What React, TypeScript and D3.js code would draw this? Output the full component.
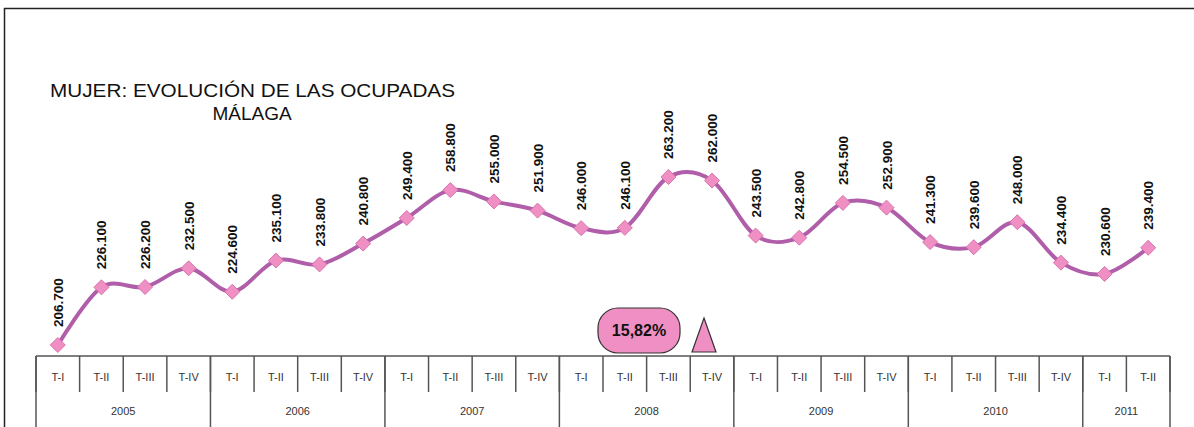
import React from "react";
import * as d3 from "d3";

const quarters = [
  "T-I","T-II","T-III","T-IV","T-I","T-II","T-III","T-IV","T-I","T-II","T-III","T-IV",
  "T-I","T-II","T-III","T-IV","T-I","T-II","T-III","T-IV","T-I","T-II","T-III","T-IV","T-I","T-II",
];
const years = ["2005", "2006", "2007", "2008", "2009", "2010", "2011"];
const quartersPerYear = [4, 4, 4, 4, 4, 4, 2];
const values = [
  206.7, 226.1, 226.2, 232.5, 224.6, 235.1, 233.8, 240.8, 249.4, 258.8, 255.0, 251.9,
  246.0, 246.1, 263.2, 262.0, 243.5, 242.8, 254.5, 252.9, 241.3, 239.6, 248.0, 234.4,
  230.6, 239.4,
];
const badgeText = "15,82%";

const W = 1194;
const H = 427;

export default function App() {
  const x = d3.scaleBand<number>().domain(d3.range(values.length)).range([36, 1170]).padding(0);
  const bw = x.bandwidth();
  const cx = (i: number) => (x(i) as number) + bw / 2;
  const y = d3.scaleLinear().domain([200, 270]).range([364.9, 156.8]);
  const line = d3
    .line<number>()
    .x((_, i) => cx(i))
    .y((d) => y(d))
    .curve(d3.curveCardinal.tension(0));
  const fmt = (v: number) => d3.format(".3f")(v).replace(",", "");

  const tableTop = 356;
  const qRowBottom = 392;
  const left = x(0) as number;
  const right = left + bw * values.length;

  let acc = 0;
  const yearCells = years.map((yr, k) => {
    const start = acc;
    acc += quartersPerYear[k];
    return { yr, x0: left + start * bw, x1: left + acc * bw };
  });

  const diamond = 7.5;

  return (
    <svg width={W} height={H} style={{ position: "absolute", left: 0, top: 0, background: "#fff" }} fontFamily="Liberation Sans, Arial, sans-serif">
      <rect x={0} y={0} width={W} height={H} fill="#fff" />
      {/* outer frame */}
      <line x1={4} y1={8.5} x2={W} y2={8.5} stroke="#222" strokeWidth={1.5} />
      <line x1={4.5} y1={8} x2={4.5} y2={H} stroke="#222" strokeWidth={1.5} />

      {/* title */}
      <text x={50} y={97} fontSize={19} fill="#111" textLength={405} lengthAdjust="spacingAndGlyphs">
        MUJER: EVOLUCIÓN DE LAS OCUPADAS
      </text>
      <text x={252} y={120} fontSize={19} fill="#111" textAnchor="middle">
        MÁLAGA
      </text>

      {/* line */}
      <path d={line(values) || ""} fill="none" stroke="#b05ea9" strokeWidth={4} strokeLinejoin="round" />
      {values.map((v, i) => (
        <path
          key={"m" + i}
          d={`M${cx(i)},${y(v) - diamond} L${cx(i) + diamond},${y(v)} L${cx(i)},${y(v) + diamond} L${cx(i) - diamond},${y(v)} Z`}
          fill="#f08fc4"
          stroke="#d774ad"
          strokeWidth={1}
        />
      ))}
      {values.map((v, i) => (
        <text
          key={"l" + i}
          transform={`translate(${cx(i) + 5},${y(v) - 18}) rotate(-90)`}
          fontSize={13.5}
          fontWeight="bold"
          fill="#111"
        >
          {fmt(v)}
        </text>
      ))}

      {/* badge */}
      <rect x={598} y={308} width={82} height={45} rx={20} ry={20} fill="#f08fc4" stroke="#333" strokeWidth={1.2} />
      <text x={639} y={336} fontSize={16} fontWeight="bold" textAnchor="middle" fill="#111">
        {badgeText}
      </text>
      <path d="M704,318 L716,352 L692,352 Z" fill="#f08fc4" stroke="#333" strokeWidth={1.2} />

      {/* category table */}
      <line x1={left} y1={tableTop} x2={right} y2={tableTop} stroke="#555" strokeWidth={1.5} />
      {d3.range(values.length + 1).map((i) => {
        const xx = left + i * bw;
        return <line key={"q" + i} x1={xx} y1={tableTop} x2={xx} y2={qRowBottom} stroke="#555" strokeWidth={1.5} />;
      })}
      {yearCells.map((c, k) => (
        <line key={"yl" + k} x1={c.x0} y1={tableTop} x2={c.x0} y2={H} stroke="#555" strokeWidth={1.5} />
      ))}
      <line x1={right} y1={tableTop} x2={right} y2={H} stroke="#555" strokeWidth={1.5} />
      {quarters.map((q, i) => (
        <text key={"qt" + i} x={cx(i)} y={381} fontSize={11} textAnchor="middle" fill="#333">
          {q}
        </text>
      ))}
      {yearCells.map((c, k) => (
        <text key={"yt" + k} x={(c.x0 + c.x1) / 2} y={415} fontSize={11} textAnchor="middle" fill="#333">
          {c.yr}
        </text>
      ))}
    </svg>
  );
}
